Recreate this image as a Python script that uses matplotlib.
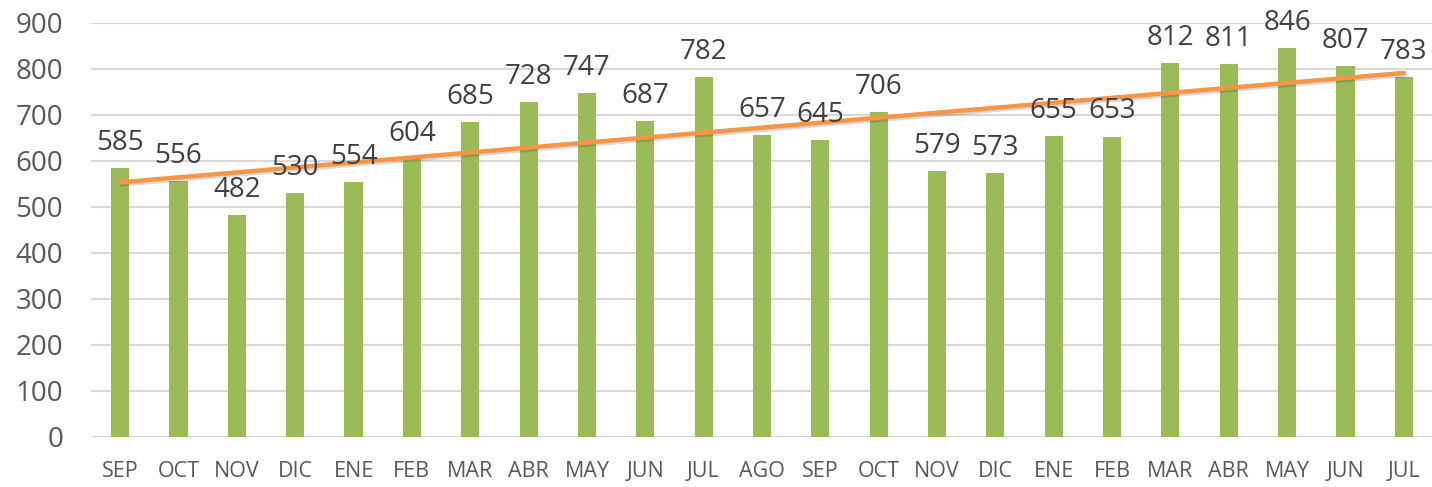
import numpy as np
import matplotlib
matplotlib.use('Agg')
import matplotlib.pyplot as plt
import matplotlib.patheffects as pe

months = ['SEP', 'OCT', 'NOV', 'DIC', 'ENE', 'FEB', 'MAR', 'ABR', 'MAY', 'JUN', 'JUL', 'AGO',
          'SEP', 'OCT', 'NOV', 'DIC', 'ENE', 'FEB', 'MAR', 'ABR', 'MAY', 'JUN', 'JUL']
values = [585, 556, 482, 530, 554, 604, 685, 728, 747, 687, 782, 657,
          645, 706, 579, 573, 655, 653, 812, 811, 846, 807, 783]
y_ticks = [0, 100, 200, 300, 400, 500, 600, 700, 800, 900]

plt.rcParams['font.family'] = ['Open Sans', 'DejaVu Sans']

fig = plt.figure(figsize=(14.32, 4.87), dpi=100)
ax = fig.add_axes([0.0635, 0.1027, 0.9372, 0.8501])

x = np.arange(len(values))
ax.bar(x, values, width=0.31, color='#9BBB59', zorder=2)

# linear trend line
slope, intercept = np.polyfit(x, values, 1)
ax.plot(x, slope * x + intercept, color='#F79646', lw=3.2, solid_capstyle='round', zorder=3,
        path_effects=[pe.SimpleLineShadow(offset=(0.8, -1.5), shadow_color='k', alpha=0.15),
                      pe.Normal()])

for xi, v in zip(x, values):
    ax.annotate(str(v), (xi, v), xytext=(0, 8), textcoords='offset points',
                ha='center', va='bottom', fontsize=20, color='#404040', zorder=4)

ax.set_xlim(-0.5, len(values) - 0.5)
ax.set_ylim(0, 900)
ax.set_yticks(y_ticks)
ax.set_xticks(x)
ax.set_xticklabels(months)
ax.yaxis.grid(True, color='#D9D9D9', lw=1.5, zorder=0)
ax.set_axisbelow(True)
for s in ax.spines.values():
    s.set_visible(False)
ax.tick_params(axis='y', length=0, labelsize=20, labelcolor='#595959', pad=20)
ax.tick_params(axis='x', length=0, labelsize=15.5, labelcolor='#595959', pad=17)

fig.savefig('out.png', dpi=100)
